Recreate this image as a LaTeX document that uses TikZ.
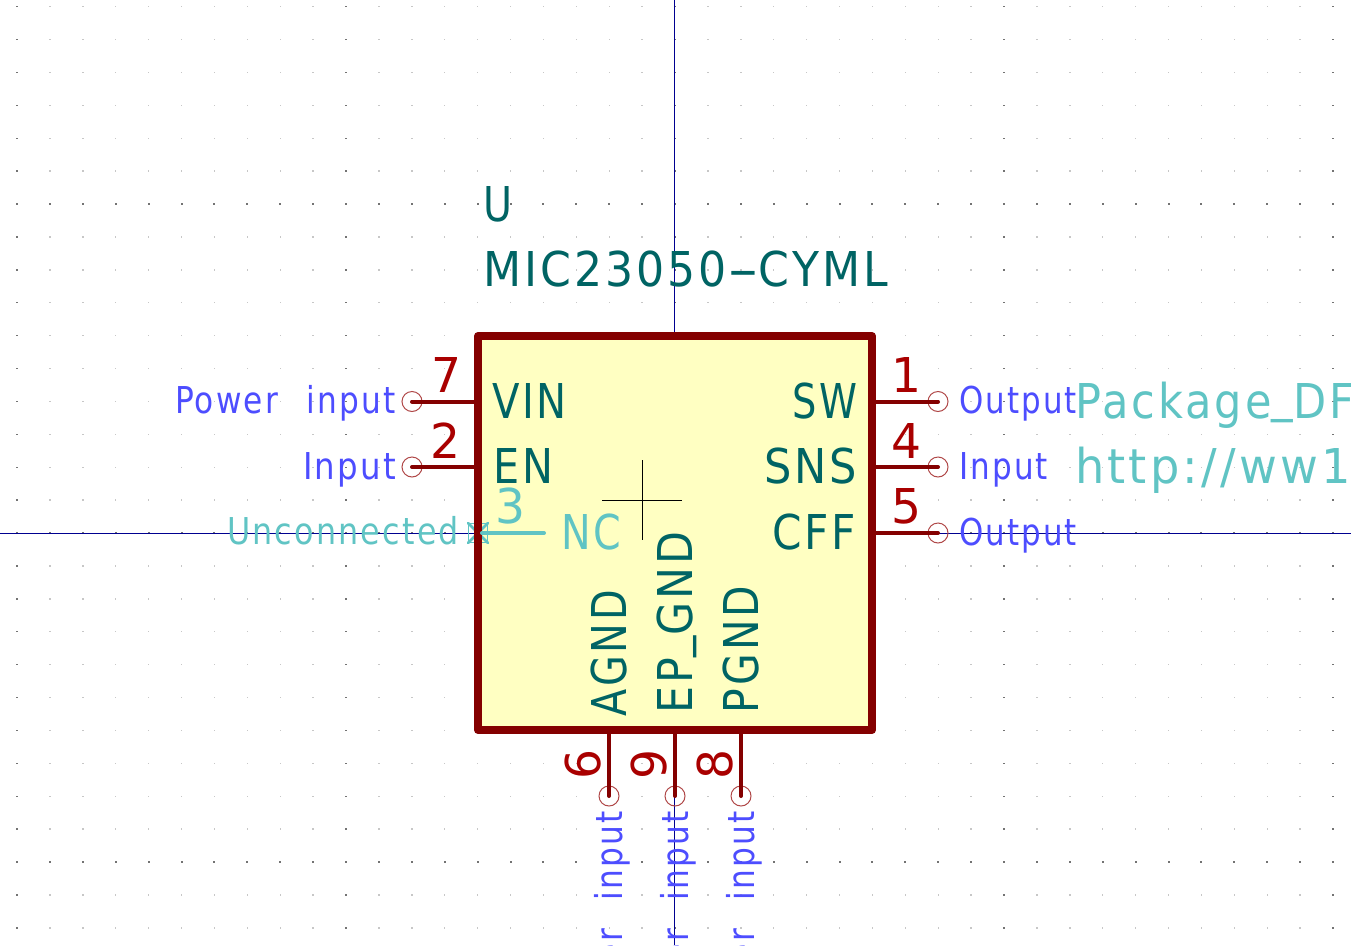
\documentclass[tikz,border=0pt]{standalone}
\usepackage{fontspec}
\usepackage{graphicx}
\setmainfont{DejaVu Sans}
\definecolor{boxred}{HTML}{840000}
\definecolor{boxfill}{HTML}{FFFFC2}
\definecolor{numred}{HTML}{A90000}
\definecolor{teal2}{HTML}{006464}
\definecolor{blue2}{HTML}{4D4DFF}
\definecolor{cyan2}{HTML}{60C4C4}
\definecolor{axisblue}{HTML}{000090}
\definecolor{circred}{HTML}{B04848}
\newcommand{\kt}[3]{\resizebox{#2pt}{\height}{\fontsize{#1}{#1}\selectfont\addfontfeature{LetterSpace=7}#3}}
\newcommand{\lowbar}{\raisebox{7pt}{\_}}
\tikzset{
  lbl/.style={inner sep=0pt,outer sep=0pt,anchor=base west},
  lble/.style={inner sep=0pt,outer sep=0pt,anchor=base east},
  pinline/.style={draw=boxred,line width=4pt,line cap=round},
  endc/.style={circle,draw=circred,line width=1pt,minimum size=20pt,inner sep=0pt,outer sep=0pt},
  axisl/.style={draw=axisblue,line width=1pt},
}
\begin{document}
\begin{tikzpicture}[x=1pt,y=-1pt]
\useasboundingbox (0,0) rectangle (1351,945);
\clip (0,0) rectangle (1351,945);
\fill[white] (0,0) rectangle (1351,945);
% grid
\foreach \i in {-20,...,20}{
  \foreach \j in {-16,...,12}{
    \pgfmathsetmacro{\px}{675+32.9*\i}
    \pgfmathsetmacro{\py}{533+32.9*\j}
    \pgfmathtruncatemacro{\maj}{(mod(abs(\i),10)==0 || mod(abs(\j),10)==0) ? 1 : 0}
    \ifnum\maj=1
      \fill[black!55] (\px-1,\py-.7) rectangle (\px+1,\py+.7);
    \else
      \fill[black!22] (\px-.7,\py-.7) rectangle (\px+.7,\py+.7);
    \fi
  }
}
% axes
\coordinate (axT) at (674.5,0);
\coordinate (axB) at (674.5,945);
\coordinate (axL) at (0,533);
\coordinate (axR) at (1351,533);
\draw[axisl] (axT) -- (axB);
\draw[axisl] (axL) -- (axR);
% box fill
\node[fill=boxfill,minimum width=394pt,minimum height=394pt,inner sep=0pt,outer sep=0pt] (U) at (675,533) {};
% no-connect marker
\coordinate (nc) at (478,533);
\draw[cyan2,line width=2.6pt,line cap=round] ([xshift=-10pt,yshift=-10pt]nc) -- ([xshift=10pt,yshift=10pt]nc);
\draw[cyan2,line width=2.6pt,line cap=round] ([xshift=-10pt,yshift=10pt]nc) -- ([xshift=10pt,yshift=-10pt]nc);
\node[draw=cyan2,line width=1pt,minimum size=19pt,inner sep=0pt] (ncs) at (nc) {};
% outline
\node[draw=boxred,line width=8pt,line join=round,minimum width=394pt,minimum height=394pt,inner sep=0pt,outer sep=0pt] (Uo) at (675,533) {};
% pin 3 line
\coordinate (p3e) at (544,533);
\draw[cyan2,line width=4pt,line cap=round] (Uo.west |- p3e) ++(4,0) -- (p3e);
% crosshair
\coordinate (chT) at (642.5,460);
\coordinate (chB) at (642.5,540);
\coordinate (chL) at (602,500);
\coordinate (chR) at (682,500);
\draw[black,line width=1pt] (chT) -- (chB);
\draw[black,line width=1pt] (chL) -- (chR);
% left pins
\node[endc] (p7) at (412,401.5) {};
\node[endc] (p2) at (412,467) {};
\draw[pinline] (p7.center) -- (p7.center -| Uo.west);
\draw[pinline] (p2.center) -- (p2.center -| Uo.west);
% right pins
\node[endc] (p1) at (938,401.5) {};
\node[endc] (p4) at (938,467) {};
\node[endc] (p5) at (938,533) {};
\draw[pinline] (p1.center) -- (p1.center -| Uo.east);
\draw[pinline] (p4.center) -- (p4.center -| Uo.east);
\draw[pinline] (p5.center) -- (p5.center -| Uo.east);
% bottom pins
\node[endc] (p6) at (609,796) {};
\node[endc] (p9) at (675,796) {};
\node[endc] (p8) at (741,796) {};
\draw[pinline] (p6.center) -- (p6.center |- Uo.south);
\draw[pinline] (p9.center) -- (p9.center |- Uo.south);
\draw[pinline] (p8.center) -- (p8.center |- Uo.south);
% reference / value
\node[lbl,text=teal2] (tU) at (483,221) {\kt{48}{29}{U}};
\node[lbl,text=teal2] (tV) at (483,286) {\kt{48}{405}{MIC23050\scalebox{2}[1]{-}CYML}};
% pin names
\node[lbl,text=teal2] (nVIN) at (492,418) {\kt{48}{75}{VIN}};
\node[lbl,text=teal2] (nEN) at (493,483) {\kt{48}{60}{EN}};
\node[lbl,text=cyan2] (nNC) at (561,549) {\kt{48}{60}{NC}};
\node[lble,text=teal2] (nSW) at (857,418) {\kt{48}{65}{SW}};
\node[lble,text=teal2] (nSNS) at (857,483) {\kt{48}{93}{SNS}};
\node[lble,text=teal2] (nCFF) at (856,549) {\kt{48}{84}{CFF}};
\node[lbl,text=teal2,rotate=90] (nAG) at (626,716) {\kt{48}{126}{AGND}};
\node[lbl,text=teal2,rotate=90] (nEP) at (692,713) {\kt{48}{181}{EP\lowbar GND}};
\node[lbl,text=teal2,rotate=90] (nPG) at (758,713) {\kt{48}{127}{PGND}};
% pin numbers
\node[lbl,text=numred] at (431,392) {\kt{48}{30}{7}};
\node[lbl,text=numred] at (430,458) {\kt{48}{30}{2}};
\node[lbl,text=cyan2] at (495,523) {\kt{48}{30}{3}};
\node[lbl,text=numred] at (891,392) {\kt{48}{30}{1}};
\node[lbl,text=numred] at (891,458) {\kt{48}{30}{4}};
\node[lbl,text=numred] at (891,523) {\kt{48}{30}{5}};
\node[lbl,text=numred,rotate=90] at (600,779) {\kt{48}{30}{6}};
\node[lbl,text=numred,rotate=90] at (666,779) {\kt{48}{30}{9}};
\node[lbl,text=numred,rotate=90] at (732,779) {\kt{48}{30}{8}};
% electrical types
\node[lble,text=blue2] at (396,413) {\kt{37}{221}{Power\hspace{20pt} input}};
\node[lble,text=blue2] at (396,479) {\kt{37}{93}{Input}};
\node[lble,text=cyan2] at (459,544) {\kt{37}{232}{Unconnected}};
\node[lbl,text=blue2] at (959,413) {\kt{37}{118}{Output}};
\node[lbl,text=blue2] at (959,479) {\kt{37}{89}{Input}};
\node[lbl,text=blue2] at (959,545) {\kt{37}{118}{Output}};
\node[lble,text=blue2,rotate=90] at (622,811) {\kt{37}{221}{Power\hspace{20pt} input}};
\node[lble,text=blue2,rotate=90] at (688,811) {\kt{37}{221}{Power\hspace{20pt} input}};
\node[lble,text=blue2,rotate=90] at (754,811) {\kt{37}{221}{Power\hspace{20pt} input}};
% footprint / datasheet
\node[lbl,text=cyan2] at (1075,418) {\kt{48}{279}{Package\lowbar DF}};
\node[lbl,text=cyan2] at (1075,483) {\kt{48}{276}{http://ww1}};
\end{tikzpicture}
\end{document}
